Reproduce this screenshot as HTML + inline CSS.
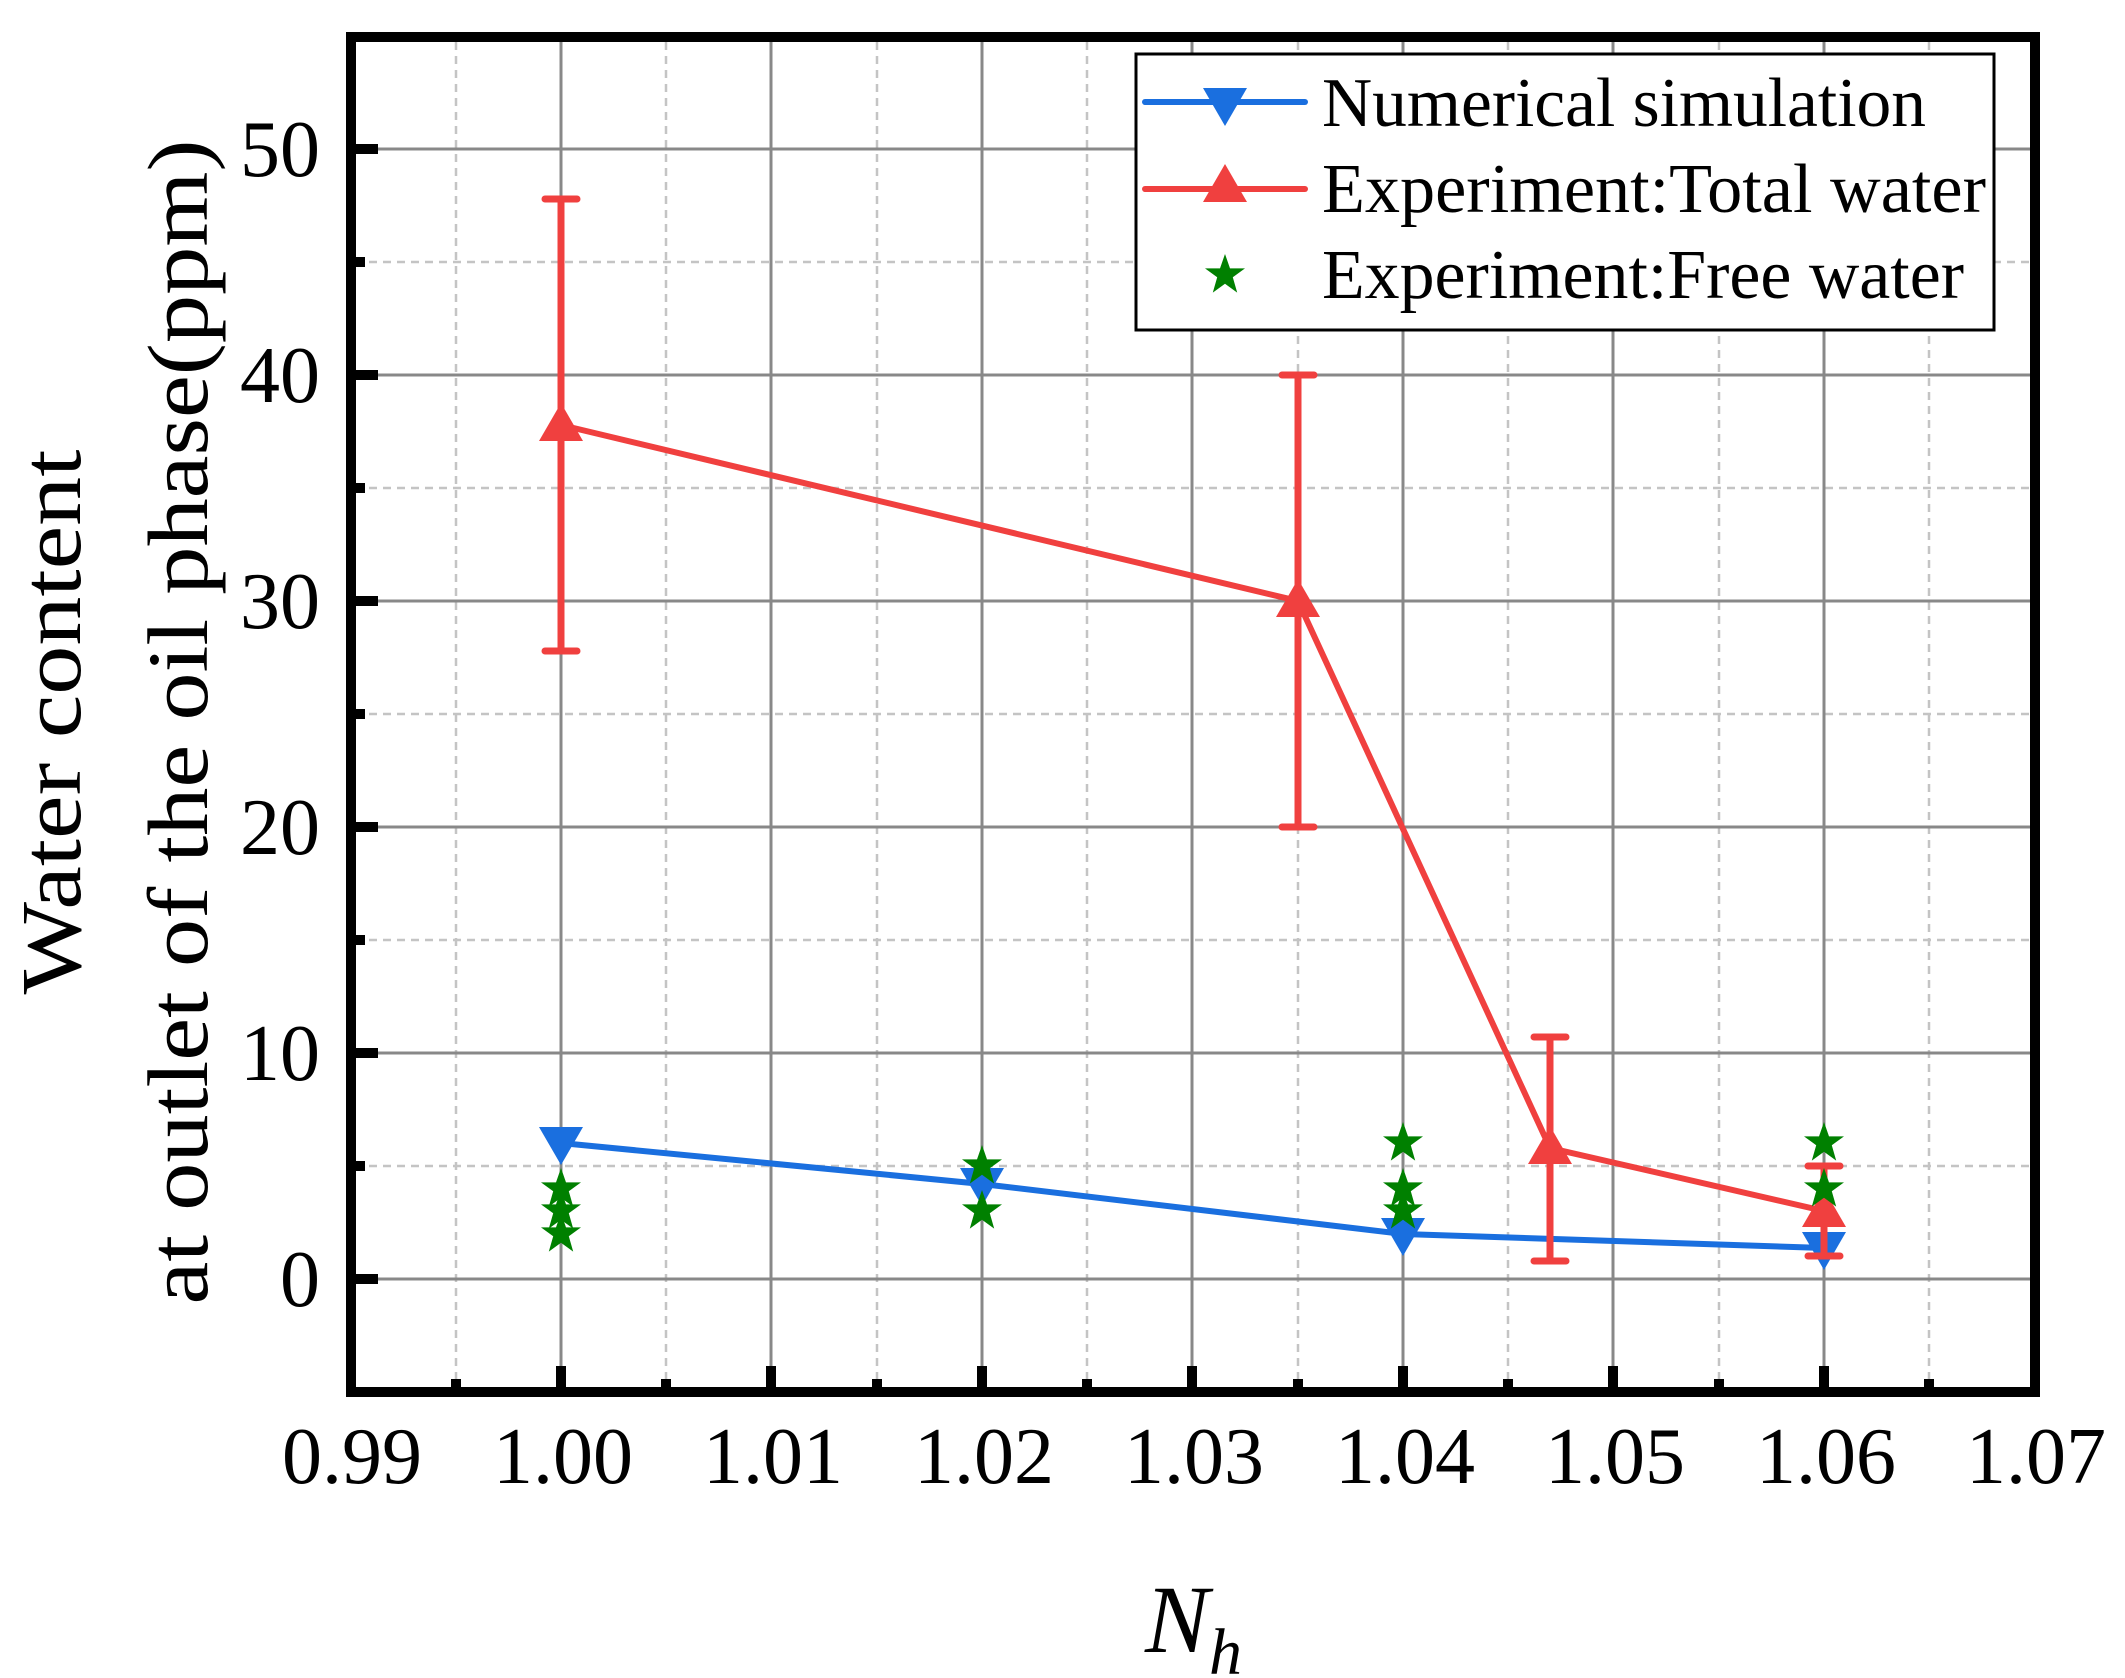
<!DOCTYPE html>
<html><head><meta charset="utf-8"><style>html,body{margin:0;padding:0;background:#fff}svg{display:block}text{font-family:"Liberation Serif","Times New Roman",serif}</style></head>
<body>
<svg width="2125" height="1678" viewBox="0 0 2125 1678" xmlns="http://www.w3.org/2000/svg">
<defs>
<polygon id="tu" points="0,-22 22,16 -22,16"/>
<polygon id="td" points="0,22 22,-16 -22,-16"/>
<polygon id="st" points="0,-21 5,-6.6 20,-6.6 7.8,2.2 12.2,17.6 0,8.8 -12.2,17.6 -7.8,2.2 -20,-6.6 -5,-6.6"/>
</defs>
<rect width="2125" height="1678" fill="#fff"/>
<g stroke="#c4c4c4" stroke-width="2.5" stroke-dasharray="8,6">
<line x1="456" y1="42" x2="456" y2="1387"/><line x1="666" y1="42" x2="666" y2="1387"/><line x1="877" y1="42" x2="877" y2="1387"/><line x1="1087" y1="42" x2="1087" y2="1387"/><line x1="1298" y1="42" x2="1298" y2="1387"/><line x1="1508" y1="42" x2="1508" y2="1387"/><line x1="1719" y1="42" x2="1719" y2="1387"/><line x1="1929" y1="42" x2="1929" y2="1387"/>
<line x1="355" y1="1166" x2="2030" y2="1166"/><line x1="355" y1="940" x2="2030" y2="940"/><line x1="355" y1="714" x2="2030" y2="714"/><line x1="355" y1="488" x2="2030" y2="488"/><line x1="355" y1="262" x2="2030" y2="262"/>
</g>
<g stroke="#888" stroke-width="3">
<line x1="561" y1="42" x2="561" y2="1387"/><line x1="771" y1="42" x2="771" y2="1387"/><line x1="982" y1="42" x2="982" y2="1387"/><line x1="1192" y1="42" x2="1192" y2="1387"/><line x1="1403" y1="42" x2="1403" y2="1387"/><line x1="1613" y1="42" x2="1613" y2="1387"/><line x1="1824" y1="42" x2="1824" y2="1387"/>
<line x1="355" y1="1279" x2="2030" y2="1279"/><line x1="355" y1="1053" x2="2030" y2="1053"/><line x1="355" y1="827" x2="2030" y2="827"/><line x1="355" y1="601" x2="2030" y2="601"/><line x1="355" y1="375" x2="2030" y2="375"/><line x1="355" y1="149" x2="2030" y2="149"/>
</g>
<g stroke="#000" stroke-width="10">
<line x1="561" y1="1392" x2="561" y2="1366"/><line x1="771" y1="1392" x2="771" y2="1366"/><line x1="982" y1="1392" x2="982" y2="1366"/><line x1="1192" y1="1392" x2="1192" y2="1366"/><line x1="1403" y1="1392" x2="1403" y2="1366"/><line x1="1613" y1="1392" x2="1613" y2="1366"/><line x1="1824" y1="1392" x2="1824" y2="1366"/>
<line x1="456" y1="1392" x2="456" y2="1379"/><line x1="666" y1="1392" x2="666" y2="1379"/><line x1="877" y1="1392" x2="877" y2="1379"/><line x1="1087" y1="1392" x2="1087" y2="1379"/><line x1="1298" y1="1392" x2="1298" y2="1379"/><line x1="1508" y1="1392" x2="1508" y2="1379"/><line x1="1719" y1="1392" x2="1719" y2="1379"/><line x1="1929" y1="1392" x2="1929" y2="1379"/>
<line x1="350" y1="1279" x2="378" y2="1279"/><line x1="350" y1="1053" x2="378" y2="1053"/><line x1="350" y1="827" x2="378" y2="827"/><line x1="350" y1="601" x2="378" y2="601"/><line x1="350" y1="375" x2="378" y2="375"/><line x1="350" y1="149" x2="378" y2="149"/>
<line x1="350" y1="1166" x2="365" y2="1166"/><line x1="350" y1="940" x2="365" y2="940"/><line x1="350" y1="714" x2="365" y2="714"/><line x1="350" y1="488" x2="365" y2="488"/><line x1="350" y1="262" x2="365" y2="262"/>
</g>
<rect x="351" y="37" width="1684" height="1355" fill="none" stroke="#000" stroke-width="10"/>
<polyline points="561,1143 982,1184 1403,1234 1824,1248" fill="none" stroke="#1a6fdf" stroke-width="6"/>
<g fill="#1a6fdf"><use href="#td" x="561" y="1143"/><use href="#td" x="982" y="1184"/><use href="#td" x="1403" y="1234"/><use href="#td" x="1824" y="1248"/></g>
<g stroke="#f0403f" stroke-width="7" stroke-linecap="round">
<line x1="561" y1="651" x2="561" y2="199"/><line x1="545" y1="651" x2="577" y2="651"/><line x1="545" y1="199" x2="577" y2="199"/>
<line x1="1298" y1="827" x2="1298" y2="375"/><line x1="1282" y1="827" x2="1314" y2="827"/><line x1="1282" y1="375" x2="1314" y2="375"/>
<line x1="1550" y1="1261" x2="1550" y2="1037"/><line x1="1534" y1="1261" x2="1566" y2="1261"/><line x1="1534" y1="1037" x2="1566" y2="1037"/>
<line x1="1824" y1="1256" x2="1824" y2="1166"/><line x1="1808" y1="1256" x2="1840" y2="1256"/><line x1="1808" y1="1166" x2="1840" y2="1166"/>
</g>
<polyline points="561,425 1298,601 1550,1148 1824,1211" fill="none" stroke="#f0403f" stroke-width="6"/>
<g fill="#f0403f"><use href="#tu" x="561" y="425"/><use href="#tu" x="1298" y="601"/><use href="#tu" x="1550" y="1148"/><use href="#tu" x="1824" y="1211"/></g>
<g fill="#008000">
<use href="#st" x="561" y="1234"/><use href="#st" x="561" y="1211"/><use href="#st" x="561" y="1189"/>
<use href="#st" x="982" y="1211"/><use href="#st" x="982" y="1166"/>
<use href="#st" x="1403" y="1211"/><use href="#st" x="1403" y="1189"/><use href="#st" x="1403" y="1143"/>
<use href="#st" x="1824" y="1189"/><use href="#st" x="1824" y="1143"/>
</g>
<rect x="1136" y="54" width="858" height="276" fill="#fff" stroke="#000" stroke-width="3"/>
<line x1="1145" y1="102" x2="1305" y2="102" stroke="#1a6fdf" stroke-width="6" stroke-linecap="round"/>
<use href="#td" x="1225" y="104" fill="#1a6fdf"/>
<line x1="1145" y1="189" x2="1305" y2="189" stroke="#f0403f" stroke-width="6" stroke-linecap="round"/>
<use href="#tu" x="1225" y="186" fill="#f0403f"/>
<use href="#st" x="1225" y="275" fill="#008000"/>
<g font-size="70" fill="#000">
<text x="1322" y="126" textLength="604" lengthAdjust="spacingAndGlyphs">Numerical simulation</text>
<text x="1322" y="212" textLength="664" lengthAdjust="spacingAndGlyphs">Experiment:Total water</text>
<text x="1322" y="298" textLength="642" lengthAdjust="spacingAndGlyphs">Experiment:Free water</text>
</g>
<g font-size="80" fill="#000" text-anchor="middle">
<text x="352" y="1483">0.99</text><text x="563" y="1483">1.00</text><text x="773" y="1483">1.01</text><text x="984" y="1483">1.02</text><text x="1194" y="1483">1.03</text><text x="1405" y="1483">1.04</text><text x="1615" y="1483">1.05</text><text x="1826" y="1483">1.06</text><text x="2036" y="1483">1.07</text>
</g>
<g font-size="80" fill="#000" text-anchor="end">
<text x="320" y="1306">0</text><text x="320" y="1080">10</text><text x="320" y="854">20</text><text x="320" y="628">30</text><text x="320" y="402">40</text><text x="320" y="176">50</text>
</g>
<text x="1145" y="1652" font-size="96" font-style="italic">N<tspan font-size="66" dy="22">h</tspan></text>
<g font-size="86" fill="#000" text-anchor="middle">
<text transform="translate(80,722) rotate(-90)" textLength="545" lengthAdjust="spacingAndGlyphs">Water content</text>
<text transform="translate(207,722) rotate(-90)" textLength="1165" lengthAdjust="spacingAndGlyphs">at outlet of the oil phase(ppm)</text>
</g>
</svg>
</body></html>
